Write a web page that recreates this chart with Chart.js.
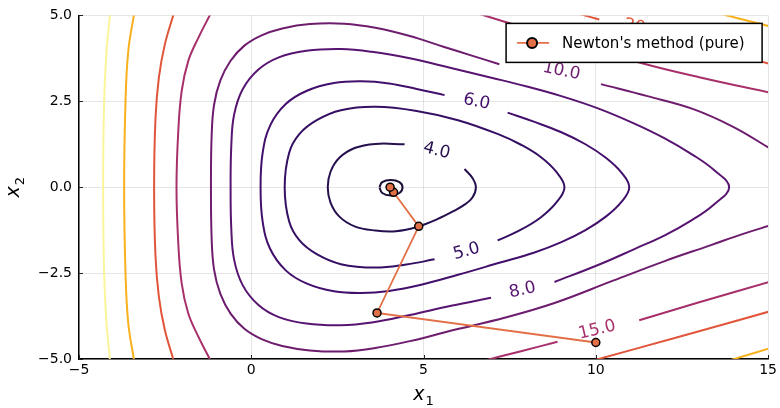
<!DOCTYPE html>
<html>
<head>
<meta charset="utf-8">
<script src="https://cdn.jsdelivr.net/npm/chart.js@4.4.1/dist/chart.umd.min.js"></script>
<style>
  html, body { margin: 0; padding: 0; background: #fff; }
</style>
</head>
<body>
<canvas id="chart" width="780" height="408"></canvas>
<script>
// contour lines of f(x1, x2): each level is a list of segments of [x1, x2]
const levelNames = ["inner", "4.0", "5.0", "6.0", "8.0", "10.0", "15.0", "20.0", "30.0", "40.0"];
const levelColors = ["#1c0f38", "#26104f", "#340f63", "#430f6c", "#571470", "#6e1c6e", "#a8306a", "#e1553a", "#f8b11d", "#fbf59a"];

const cInner = [
  [[3.72, 0], [3.8, 0.15], [4.05, 0.21], [4.3, 0.15], [4.39, 0], [4.3, -0.17], [4.05, -0.24], [3.8, -0.17], [3.72, 0]]
];
const c4 = [
  [[6.19, 0.53], [6.42, 0.27], [6.52, 0], [6.42, -0.3], [6.2, -0.5], [5.9, -0.68], [5.4, -0.93], [4.83, -1.15],
   [4.2, -1.28], [3.6, -1.26], [3.0, -1.14], [2.55, -0.85], [2.3, -0.45], [2.22, 0], [2.3, 0.45], [2.55, 0.85],
   [3.0, 1.14], [3.6, 1.26], [4.45, 1.25]]
];
const c5 = [
  [[7.15, -1.55], [7.8, -1.25], [8.4, -0.88], [8.85, -0.45], [9.09, 0], [8.85, 0.45], [8.4, 0.88], [7.8, 1.25],
   [7.2, 1.53], [6.0, 1.95], [4.8, 2.22], [3.6, 2.34], [2.6, 2.24], [1.9, 1.95], [1.4, 1.55], [1.1, 1.0],
   [0.97, 0], [1.1, -1.0], [1.4, -1.55], [1.9, -1.95], [2.6, -2.24], [3.6, -2.34], [4.5, -2.25], [5.32, -2.1]]
];
const c6 = [
  [[7.44, 2.17], [8.22, 1.9], [9.0, 1.6], [9.7, 1.25], [10.3, 0.85], [10.75, 0.42], [10.97, 0], [10.75, -0.42],
   [10.3, -0.85], [9.7, -1.25], [9.0, -1.6], [8.22, -1.9], [7.2, -2.2], [6.0, -2.55], [4.93, -2.84], [4.0, -3.02],
   [3.2, -3.08], [2.4, -3.03], [1.6, -2.8], [1.0, -2.42], [0.55, -1.8], [0.33, -1.0], [0.27, 0], [0.33, 1.0],
   [0.55, 1.8], [1.0, 2.42], [1.6, 2.8], [2.4, 3.03], [3.2, 3.08], [4.0, 3.02], [4.8, 2.86], [5.61, 2.68]]
];
const c8 = [
  [[8.8, -2.76], [10.1, -2.25], [11.12, -1.8], [12.0, -1.4], [12.8, -0.95], [13.43, -0.5], [13.87, 0],
   [13.43, 0.5], [12.8, 0.95], [12.0, 1.42], [11.12, 1.85], [10.1, 2.28], [9.0, 2.65], [8.0, 2.93], [7.0, 3.18],
   [5.8, 3.47], [4.6, 3.75], [3.5, 3.94], [2.6, 4.02], [1.6, 3.97], [0.8, 3.78], [0.2, 3.42], [-0.25, 2.85],
   [-0.5, 2.1], [-0.58, 1.2], [-0.6, 0], [-0.58, -1.2], [-0.5, -2.1], [-0.25, -2.85], [0.2, -3.42], [0.8, -3.78],
   [1.6, -3.97], [2.6, -4.02], [3.5, -3.94], [4.6, -3.72], [5.8, -3.45], [6.96, -3.22]]
];
const c10 = [
  [[7.2, 3.58], [6.4, 3.83], [5.6, 4.08], [4.6, 4.4], [3.6, 4.64], [2.7, 4.76], [1.7, 4.75], [0.9, 4.62],
   [0.3, 4.42], [-0.2, 4.12], [-0.6, 3.68], [-0.9, 3.1], [-1.08, 2.4], [-1.15, 1.5], [-1.17, 0], [-1.15, -1.5],
   [-1.08, -2.4], [-0.9, -3.1], [-0.6, -3.68], [-0.2, -4.12], [0.3, -4.42], [0.9, -4.62], [1.7, -4.75],
   [2.7, -4.78], [3.6, -4.68], [4.6, -4.48], [5.9, -4.15], [7.35, -3.8], [8.8, -3.37], [10.5, -2.72],
   [12.0, -2.15], [13.3, -1.7], [14.3, -1.35], [15.1, -1.1]],
  [[10.15, 3.0], [11.5, 2.65], [12.81, 2.28], [14.0, 1.75], [15.1, 1.1]]
];
const c15 = [
  [[-1.18, 5.05], [-1.54, 4.34], [-1.83, 3.67], [-2.02, 2.8], [-2.12, 1.6], [-2.17, 0], [-2.12, -1.6],
   [-2.02, -2.8], [-1.83, -3.67], [-1.54, -4.34], [-1.18, -5.05]],
  [[6.6, 5.05], [7.4, 4.8], [9.0, 4.3], [11.26, 3.63], [13.0, 3.2], [15.1, 2.74]],
  [[6.75, -5.05], [7.8, -4.78], [8.89, -4.5]],
  [[11.26, -3.87], [13.0, -3.35], [15.1, -2.74]]
];
const c20 = [
  [[-2.25, 5.05], [-2.51, 4.15], [-2.68, 3.2], [-2.78, 2.0], [-2.82, 0], [-2.78, -2.0], [-2.68, -3.2],
   [-2.51, -4.15], [-2.25, -5.05]],
  [[9.5, 5.05], [10.1, 4.88]],
  [[12.6, 4.3], [15.1, 3.57]],
  [[9.9, -5.05], [12.5, -4.33], [15.1, -3.6]]
];
const c30 = [
  [[-3.4, 5.05], [-3.57, 3.96], [-3.65, 2.5], [-3.69, 0], [-3.65, -2.5], [-3.57, -3.96], [-3.4, -5.05]],
  [[13.6, 5.05], [15.1, 4.67]],
  [[13.85, -5.05], [15.1, -4.67]]
];
const c40 = [
  [[-4.1, 5.05], [-4.2, 3.96], [-4.27, 2.5], [-4.3, 0], [-4.27, -2.5], [-4.2, -3.96], [-4.1, -5.05]]
];
const contours = [cInner, c4, c5, c6, c8, c10, c15, c20, c30, c40];

// Newton iterates
const newtonX1 = [10.0, 3.65, 4.86, 4.13, 4.03];
const newtonX2 = [-4.52, -3.66, -1.14, -0.15, 0.0];
const seriesLabel = "Newton's method (pure)";

const xTickValues = [-5, 0, 5, 10, 15];
const xTickLabels = ["\u22125", "0", "5", "10", "15"];
const yTickValues = [-5, -2.5, 0, 2.5, 5];
const yTickLabels = ["\u22125.0", "\u22122.5", "0.0", "2.5", "5.0"];

// inline contour labels (text placed on the level curves)
const contourLabels = [
  { text: "4.0", level: 1, x: 5.38, y: 1.06, angle: 14 },
  { text: "6.0", level: 3, x: 6.54, y: 2.48, angle: 12 },
  { text: "10.0", level: 5, x: 9.0, y: 3.38, angle: 12 },
  { text: "20.0", level: 7, x: 11.35, y: 4.62, angle: 12 },
  { text: "5.0", level: 2, x: 6.25, y: -1.87, angle: -15 },
  { text: "8.0", level: 4, x: 7.87, y: -3.0, angle: -12 },
  { text: "15.0", level: 6, x: 10.04, y: -4.16, angle: -13 }
];

const FONT = '"DejaVu Sans", sans-serif';
const newtonColor = "#e36f47";

const datasets = [{
  label: seriesLabel,
  data: newtonX1.map((v, i) => ({ x: v, y: newtonX2[i] })),
  showLine: true,
  borderColor: newtonColor,
  borderWidth: 1.8,
  pointRadius: 4,
  pointBackgroundColor: newtonColor,
  pointBorderColor: "#000",
  pointBorderWidth: 1.5,
  tension: 0
}];

contours.forEach((segs, li) => {
  segs.forEach(seg => {
    datasets.push({
      label: levelNames[li],
      data: seg.map(p => ({ x: p[0], y: p[1] })),
      showLine: true,
      borderColor: levelColors[li],
      borderWidth: 2,
      pointRadius: 0,
      tension: 0.4
    });
  });
});

// axis title like x with a subscript, centred on (cx, cy)
function subTitle(ctx, cx, cy, rot, main, sub) {
  ctx.save();
  ctx.translate(cx, cy);
  ctx.rotate(rot);
  ctx.fillStyle = "#000";
  ctx.textBaseline = "alphabetic";
  ctx.textAlign = "left";
  const mainFont = "italic 19px " + FONT, subFont = "13px " + FONT;
  ctx.font = mainFont;
  const w1 = ctx.measureText(main).width;
  ctx.font = subFont;
  const w2 = ctx.measureText(sub).width;
  const x0 = -(w1 + w2 + 1) / 2;
  ctx.font = mainFont;
  ctx.fillText(main, x0, 4);
  ctx.font = subFont;
  ctx.fillText(sub, x0 + w1 + 1, 9);
  ctx.restore();
}

const overlay = {
  id: "overlay",
  afterDatasetDraw(chart, args) {
    // draw contour labels right before the Newton path (dataset 0) is drawn
    if (args.index !== 1) return;
    const { ctx, scales: { x, y } } = chart;
    ctx.save();
    ctx.font = "17px " + FONT;
    ctx.textAlign = "center";
    ctx.textBaseline = "middle";
    contourLabels.forEach(l => {
      ctx.save();
      ctx.translate(x.getPixelForValue(l.x), y.getPixelForValue(l.y));
      ctx.rotate(l.angle * Math.PI / 180);
      ctx.fillStyle = levelColors[l.level];
      ctx.fillText(l.text, 0, 0);
      ctx.restore();
    });
    ctx.restore();
  },
  afterDraw(chart) {
    const { ctx, chartArea: a, scales: { x, y } } = chart;
    ctx.save();
    // small inward tick marks
    ctx.strokeStyle = "#222";
    ctx.lineWidth = 1;
    ctx.beginPath();
    xTickValues.forEach(v => {
      const px = Math.round(x.getPixelForValue(v)) + 0.5;
      ctx.moveTo(px, a.bottom);
      ctx.lineTo(px, a.bottom - 4);
    });
    yTickValues.forEach(v => {
      const py = Math.round(y.getPixelForValue(v)) + 0.5;
      ctx.moveTo(a.left, py);
      ctx.lineTo(a.left + 4, py);
    });
    ctx.stroke();

    // axis titles
    subTitle(ctx, (a.left + a.right) / 2, 396, 0, "x", "1");
    subTitle(ctx, 15, (a.top + a.bottom) / 2, -Math.PI / 2, "x", "2");

    // legend box in the top right corner
    const w = 256, h = 39;
    const lx = a.right - 6 - w, ly = a.top + 8;
    ctx.fillStyle = "#fff";
    ctx.fillRect(lx, ly, w, h);
    ctx.strokeStyle = "#000";
    ctx.lineWidth = 1.5;
    ctx.strokeRect(lx, ly, w, h);
    const cy = ly + h / 2;
    ctx.strokeStyle = newtonColor;
    ctx.lineWidth = 1.8;
    ctx.beginPath();
    ctx.moveTo(lx + 11, cy);
    ctx.lineTo(lx + 43, cy);
    ctx.stroke();
    ctx.beginPath();
    ctx.arc(lx + 26, cy, 5, 0, Math.PI * 2);
    ctx.fillStyle = newtonColor;
    ctx.fill();
    ctx.lineWidth = 2;
    ctx.strokeStyle = "#000";
    ctx.stroke();
    ctx.fillStyle = "#000";
    ctx.font = "15px " + FONT;
    ctx.textAlign = "left";
    ctx.textBaseline = "middle";
    ctx.fillText(seriesLabel, lx + 56, cy + 1);
    ctx.restore();
  }
};

new Chart(document.getElementById("chart"), {
  type: "scatter",
  data: { datasets: datasets },
  options: {
    responsive: false,
    animation: false,
    layout: { padding: { top: 14, right: 11, left: 0, bottom: 0 } },
    plugins: { legend: { display: false }, tooltip: { enabled: false } },
    scales: {
      x: {
        type: "linear",
        min: -5,
        max: 15,
        afterFit: s => { s.height = 49; },
        afterBuildTicks: s => { s.ticks = xTickValues.map(v => ({ value: v })); },
        ticks: {
          font: { family: FONT, size: 14 },
          color: "#000",
          padding: 3,
          maxRotation: 0,
          callback: v => xTickLabels[xTickValues.indexOf(v)]
        },
        grid: { color: "rgba(0,0,0,0.1)", drawTicks: false },
        border: { color: "#000", width: 1.5 }
      },
      y: {
        type: "linear",
        min: -5,
        max: 5,
        afterFit: s => { s.width = 79; },
        afterBuildTicks: s => { s.ticks = yTickValues.map(v => ({ value: v })); },
        ticks: {
          font: { family: FONT, size: 14 },
          color: "#000",
          padding: 7,
          callback: v => yTickLabels[yTickValues.indexOf(v)]
        },
        grid: { color: "rgba(0,0,0,0.1)", drawTicks: false },
        border: { color: "#000", width: 1.5 }
      }
    }
  },
  plugins: [overlay]
});
</script>
</body>
</html>
